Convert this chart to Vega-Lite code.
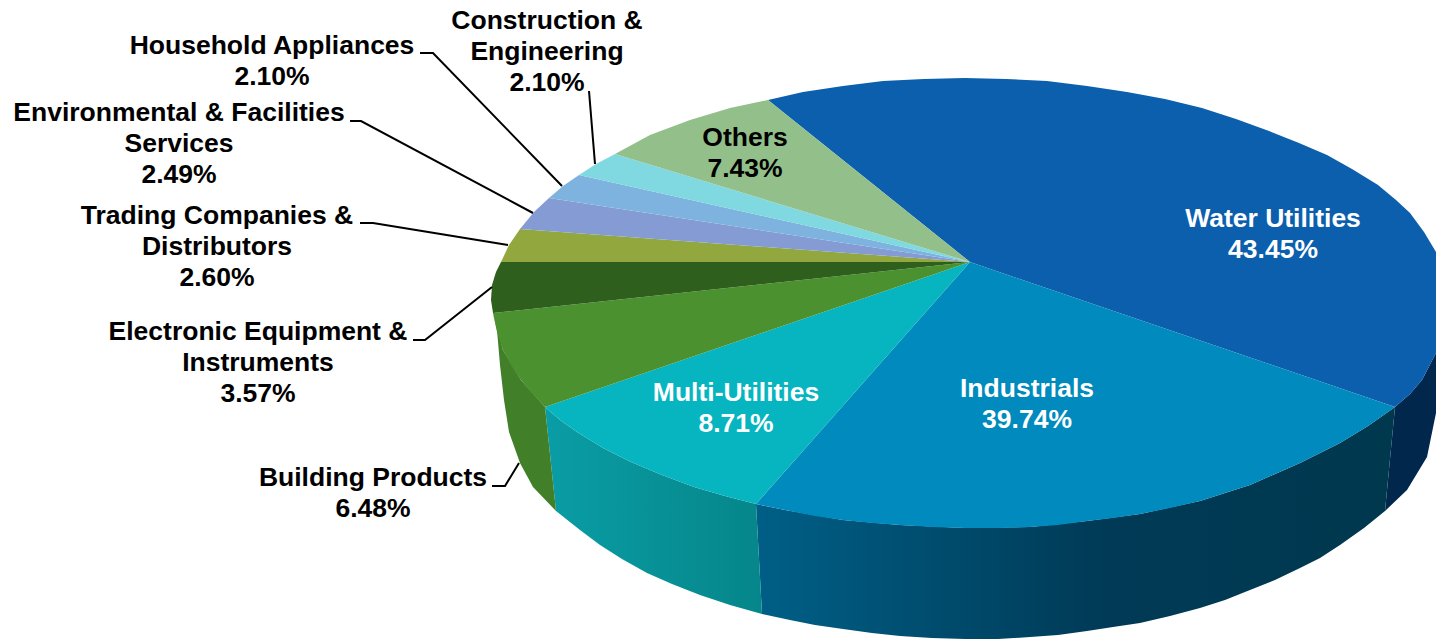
{"$schema":"https://vega.github.io/schema/vega-lite/v6.json","width":1436,"height":639,"padding":0,"autosize":{"type":"none"},"background":"white","view":{"stroke":null},
"datasets":{
"top":[
{"p":"Water Utilities","n":0,"x":970,"y":262},{"p":"Water Utilities","n":1,"x":768,"y":100},{"p":"Water Utilities","n":2,"x":803,"y":92},{"p":"Water Utilities","n":3,"x":843,"y":86},{"p":"Water Utilities","n":4,"x":883,"y":81},{"p":"Water Utilities","n":5,"x":924,"y":79},{"p":"Water Utilities","n":6,"x":965,"y":78},{"p":"Water Utilities","n":7,"x":1006,"y":79},{"p":"Water Utilities","n":8,"x":1047,"y":81},{"p":"Water Utilities","n":9,"x":1087,"y":86},{"p":"Water Utilities","n":10,"x":1127,"y":92},{"p":"Water Utilities","n":11,"x":1165,"y":99},{"p":"Water Utilities","n":12,"x":1202,"y":108},{"p":"Water Utilities","n":13,"x":1236,"y":119},{"p":"Water Utilities","n":14,"x":1269,"y":131},{"p":"Water Utilities","n":15,"x":1299,"y":143},{"p":"Water Utilities","n":16,"x":1327,"y":155},{"p":"Water Utilities","n":17,"x":1352,"y":169},{"p":"Water Utilities","n":18,"x":1378,"y":185},{"p":"Water Utilities","n":19,"x":1396,"y":200},{"p":"Water Utilities","n":20,"x":1410,"y":213},{"p":"Water Utilities","n":21,"x":1424,"y":232},{"p":"Water Utilities","n":22,"x":1436,"y":252},{"p":"Water Utilities","n":23,"x":1436,"y":353},{"p":"Water Utilities","n":24,"x":1422,"y":380},{"p":"Water Utilities","n":25,"x":1410,"y":394},{"p":"Water Utilities","n":26,"x":1395,"y":407},
{"p":"Industrials","n":0,"x":970,"y":262},{"p":"Industrials","n":1,"x":1395,"y":407},{"p":"Industrials","n":2,"x":1368,"y":426},{"p":"Industrials","n":3,"x":1340,"y":443},{"p":"Industrials","n":4,"x":1320,"y":453},{"p":"Industrials","n":5,"x":1300,"y":463},{"p":"Industrials","n":6,"x":1275,"y":474},{"p":"Industrials","n":7,"x":1250,"y":485},{"p":"Industrials","n":8,"x":1225,"y":493},{"p":"Industrials","n":9,"x":1200,"y":501},{"p":"Industrials","n":10,"x":1170,"y":508},{"p":"Industrials","n":11,"x":1140,"y":514},{"p":"Industrials","n":12,"x":1113,"y":518},{"p":"Industrials","n":13,"x":1087,"y":521},{"p":"Industrials","n":14,"x":1058,"y":525},{"p":"Industrials","n":15,"x":1030,"y":527},{"p":"Industrials","n":16,"x":998,"y":528},{"p":"Industrials","n":17,"x":965,"y":528},{"p":"Industrials","n":18,"x":932,"y":527},{"p":"Industrials","n":19,"x":900,"y":525},{"p":"Industrials","n":20,"x":872,"y":523},{"p":"Industrials","n":21,"x":843,"y":520},{"p":"Industrials","n":22,"x":815,"y":516},{"p":"Industrials","n":23,"x":785,"y":510},{"p":"Industrials","n":24,"x":756,"y":504},
{"p":"Multi-Utilities","n":0,"x":970,"y":262},{"p":"Multi-Utilities","n":1,"x":756,"y":504},{"p":"Multi-Utilities","n":2,"x":725,"y":496},{"p":"Multi-Utilities","n":3,"x":694,"y":487},{"p":"Multi-Utilities","n":4,"x":662,"y":475},{"p":"Multi-Utilities","n":5,"x":631,"y":462},{"p":"Multi-Utilities","n":6,"x":603,"y":448},{"p":"Multi-Utilities","n":7,"x":577,"y":432},{"p":"Multi-Utilities","n":8,"x":560,"y":420},{"p":"Multi-Utilities","n":9,"x":545,"y":407},
{"p":"Building Products","n":0,"x":970,"y":262},{"p":"Building Products","n":1,"x":545,"y":407},{"p":"Building Products","n":2,"x":532,"y":393},{"p":"Building Products","n":3,"x":521,"y":380},{"p":"Building Products","n":4,"x":511,"y":365},{"p":"Building Products","n":5,"x":503,"y":350},{"p":"Building Products","n":6,"x":497,"y":332},{"p":"Building Products","n":7,"x":493,"y":313},
{"p":"Electronic Equipment & Instruments","n":0,"x":970,"y":262},{"p":"Electronic Equipment & Instruments","n":1,"x":493,"y":313},{"p":"Electronic Equipment & Instruments","n":2,"x":491,"y":300},{"p":"Electronic Equipment & Instruments","n":3,"x":492,"y":285},{"p":"Electronic Equipment & Instruments","n":4,"x":496,"y":272},{"p":"Electronic Equipment & Instruments","n":5,"x":501,"y":262},
{"p":"Trading Companies & Distributors","n":0,"x":970,"y":262},{"p":"Trading Companies & Distributors","n":1,"x":501,"y":262},{"p":"Trading Companies & Distributors","n":2,"x":509,"y":245},{"p":"Trading Companies & Distributors","n":3,"x":520,"y":229},
{"p":"Environmental & Facilities Services","n":0,"x":970,"y":262},{"p":"Environmental & Facilities Services","n":1,"x":520,"y":229},{"p":"Environmental & Facilities Services","n":2,"x":534,"y":212},{"p":"Environmental & Facilities Services","n":3,"x":549,"y":198},
{"p":"Household Appliances","n":0,"x":970,"y":262},{"p":"Household Appliances","n":1,"x":549,"y":198},{"p":"Household Appliances","n":2,"x":563,"y":186},{"p":"Household Appliances","n":3,"x":579,"y":175},
{"p":"Construction & Engineering","n":0,"x":970,"y":262},{"p":"Construction & Engineering","n":1,"x":579,"y":175},{"p":"Construction & Engineering","n":2,"x":596,"y":164},{"p":"Construction & Engineering","n":3,"x":615,"y":154},
{"p":"Others","n":0,"x":970,"y":262},{"p":"Others","n":1,"x":615,"y":154},{"p":"Others","n":2,"x":650,"y":135},{"p":"Others","n":3,"x":690,"y":120},{"p":"Others","n":4,"x":730,"y":108},{"p":"Others","n":5,"x":768,"y":100}
],
"wallWater":[{"n":0,"x":1395,"y":407},{"n":1,"x":1410,"y":394},{"n":2,"x":1422,"y":380},{"n":3,"x":1436,"y":353},{"n":4,"x":1436,"y":413},{"n":5,"x":1427,"y":457},{"n":6,"x":1407,"y":490},{"n":7,"x":1385,"y":511}],
"wallIndustrials":[{"n":0,"x":756,"y":504},{"n":1,"x":785,"y":510},{"n":2,"x":843,"y":520},{"n":3,"x":900,"y":525},{"n":4,"x":965,"y":528},{"n":5,"x":1030,"y":527},{"n":6,"x":1087,"y":521},{"n":7,"x":1140,"y":514},{"n":8,"x":1200,"y":501},{"n":9,"x":1250,"y":485},{"n":10,"x":1300,"y":463},{"n":11,"x":1340,"y":443},{"n":12,"x":1368,"y":426},{"n":13,"x":1395,"y":407},{"n":14,"x":1385,"y":511},{"n":15,"x":1364,"y":528},{"n":16,"x":1340,"y":545},{"n":17,"x":1320,"y":558},{"n":18,"x":1300,"y":568},{"n":19,"x":1275,"y":580},{"n":20,"x":1250,"y":590},{"n":21,"x":1225,"y":600},{"n":22,"x":1200,"y":608},{"n":23,"x":1170,"y":616},{"n":24,"x":1140,"y":623},{"n":25,"x":1113,"y":627},{"n":26,"x":1087,"y":631},{"n":27,"x":1058,"y":635},{"n":28,"x":1030,"y":637},{"n":29,"x":998,"y":639},{"n":30,"x":965,"y":639},{"n":31,"x":932,"y":638},{"n":32,"x":900,"y":636},{"n":33,"x":872,"y":633},{"n":34,"x":843,"y":629},{"n":35,"x":815,"y":625},{"n":36,"x":790,"y":620},{"n":37,"x":762,"y":614}],
"wallMulti":[{"n":0,"x":545,"y":407},{"n":1,"x":560,"y":420},{"n":2,"x":577,"y":432},{"n":3,"x":603,"y":448},{"n":4,"x":631,"y":462},{"n":5,"x":662,"y":475},{"n":6,"x":694,"y":487},{"n":7,"x":725,"y":496},{"n":8,"x":756,"y":504},{"n":9,"x":762,"y":614},{"n":10,"x":730,"y":605},{"n":11,"x":700,"y":595},{"n":12,"x":672,"y":584},{"n":13,"x":647,"y":573},{"n":14,"x":622,"y":559},{"n":15,"x":600,"y":545},{"n":16,"x":580,"y":530},{"n":17,"x":556,"y":511}],
"wallBuilding":[{"n":0,"x":493,"y":313},{"n":1,"x":503,"y":350},{"n":2,"x":521,"y":380},{"n":3,"x":545,"y":407},{"n":4,"x":556,"y":511},{"n":5,"x":533,"y":487},{"n":6,"x":520,"y":463},{"n":7,"x":509,"y":432},{"n":8,"x":504,"y":400},{"n":9,"x":500,"y":365},{"n":10,"x":497,"y":330}],
"leaders":[
{"p":"Household","n":0,"x":420,"y":53},{"p":"Household","n":1,"x":433,"y":53},{"p":"Household","n":2,"x":562,"y":186},
{"p":"Environmental","n":0,"x":350,"y":121},{"p":"Environmental","n":1,"x":361,"y":121},{"p":"Environmental","n":2,"x":533,"y":213},
{"p":"Trading","n":0,"x":360,"y":223},{"p":"Trading","n":1,"x":373,"y":223},{"p":"Trading","n":2,"x":508,"y":245},
{"p":"Construction","n":0,"x":589,"y":91},{"p":"Construction","n":1,"x":595,"y":164},
{"p":"Electronic","n":0,"x":413,"y":340},{"p":"Electronic","n":1,"x":425,"y":340},{"p":"Electronic","n":2,"x":492,"y":287},
{"p":"Building","n":0,"x":492,"y":486},{"p":"Building","n":1,"x":505,"y":486},{"p":"Building","n":2,"x":519,"y":463}
],
"labels":[
{"t":"Water Utilities\n43.45%","x":1273,"y":219,"c":"w"},
{"t":"Industrials\n39.74%","x":1027,"y":389,"c":"w"},
{"t":"Multi-Utilities\n8.71%","x":736,"y":393,"c":"w"},
{"t":"Others\n7.43%","x":745,"y":138,"c":"k"},
{"t":"Building Products\n6.48%","x":373,"y":478,"c":"k"},
{"t":"Electronic Equipment &\nInstruments\n3.57%","x":258,"y":332,"c":"k"},
{"t":"Trading Companies &\nDistributors\n2.60%","x":217,"y":216,"c":"k"},
{"t":"Environmental & Facilities\nServices\n2.49%","x":179,"y":113,"c":"k"},
{"t":"Household Appliances\n2.10%","x":272,"y":46,"c":"k"},
{"t":"Construction &\nEngineering\n2.10%","x":547,"y":21,"c":"k"}
]},
"encoding":{
"x":{"field":"x","type":"quantitative","axis":null,"scale":{"domain":[0,1436],"nice":false,"zero":false}},
"y":{"field":"y","type":"quantitative","axis":null,"scale":{"domain":[639,0],"nice":false,"zero":false}}
},
"layer":[
{"data":{"name":"wallWater"},"mark":{"type":"line","filled":true,"fill":"#02274d","strokeWidth":0,"clip":true},"encoding":{"order":{"field":"n"}}},
{"data":{"name":"wallIndustrials"},"mark":{"type":"line","filled":true,"strokeWidth":0,"clip":true,"fill":{"gradient":"linear","x1":0,"y1":0,"x2":1,"y2":0,"stops":[{"offset":0,"color":"#005f87"},{"offset":0.55,"color":"#003a56"},{"offset":1,"color":"#00384e"}]}},"encoding":{"order":{"field":"n"}}},
{"data":{"name":"wallMulti"},"mark":{"type":"line","filled":true,"strokeWidth":0,"clip":true,"fill":{"gradient":"linear","x1":0,"y1":0,"x2":1,"y2":0,"stops":[{"offset":0,"color":"#0a9da5"},{"offset":1,"color":"#05868a"}]}},"encoding":{"order":{"field":"n"}}},
{"data":{"name":"wallBuilding"},"mark":{"type":"line","filled":true,"fill":"#417f28","strokeWidth":0,"clip":true},"encoding":{"order":{"field":"n"}}},
{"data":{"name":"top"},"mark":{"type":"line","filled":true,"strokeWidth":0,"clip":true},"encoding":{"order":{"field":"n"},"color":{"field":"p","type":"nominal","legend":null,"scale":{"domain":["Water Utilities","Industrials","Multi-Utilities","Building Products","Electronic Equipment & Instruments","Trading Companies & Distributors","Environmental & Facilities Services","Household Appliances","Construction & Engineering","Others"],"range":["#0b5fad","#008abd","#06b5bf","#4c9130","#2e5f1c","#92a83f","#849cd3","#7db3de","#80d9e0","#93c08a"]}}}},
{"data":{"name":"leaders"},"mark":{"type":"line","color":"black","strokeWidth":2},"encoding":{"order":{"field":"n"},"detail":{"field":"p"}}},
{"data":{"name":"labels"},"mark":{"type":"text","font":"Liberation Sans","fontWeight":"bold","fontSize":26.5,"lineBreak":"\n","lineHeight":31,"align":"center","baseline":"middle"},"encoding":{"text":{"field":"t"},"color":{"field":"c","type":"nominal","legend":null,"scale":{"domain":["w","k"],"range":["white","black"]}}}}
],
"resolve":{"scale":{"color":"independent"}}
}
